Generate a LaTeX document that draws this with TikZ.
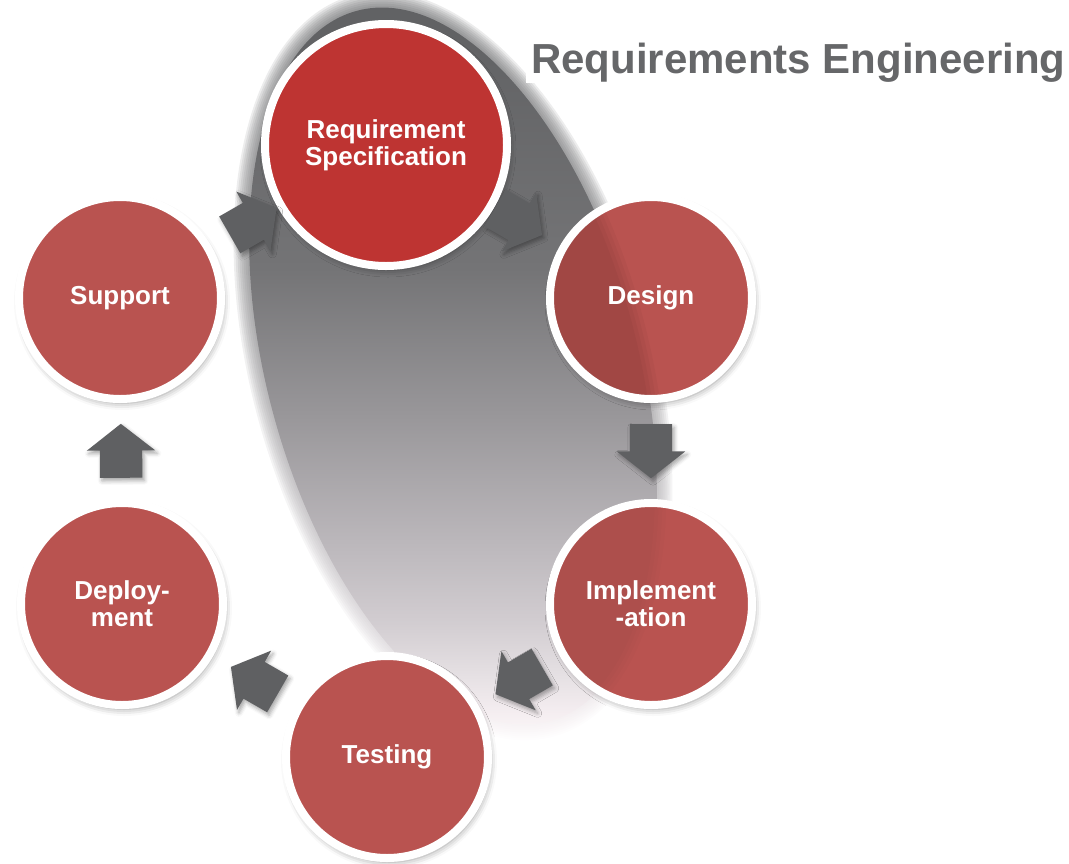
\documentclass[tikz,border=0pt]{standalone}
\usepackage{fontspec}
\setmainfont{Liberation Sans}
\usetikzlibrary{shapes.arrows,shadows.blur,calc}
\definecolor{cA}{RGB}{255,252,253}
\definecolor{cB}{RGB}{244,237,240}
\definecolor{cC}{RGB}{229,224,227}
\definecolor{cD}{RGB}{210,205,209}
\definecolor{cE}{RGB}{187,183,187}
\definecolor{cF}{RGB}{153,151,154}
\definecolor{cG}{RGB}{116,116,118}
\definecolor{cH}{RGB}{97,98,100}
\pgfdeclareverticalshading{ellshade}{100bp}{color(0bp)=(cA); color(25bp)=(cA);
  color(27.5bp)=(cB); color(30bp)=(cC); color(33.5bp)=(cD); color(39bp)=(cE);
  color(47.5bp)=(cF); color(57.5bp)=(cG); color(73.5bp)=(cH); color(100bp)=(cH)}
\definecolor{redMain}{RGB}{190,52,50}
\definecolor{redStage}{RGB}{185,83,80}
\definecolor{arrowGray}{RGB}{95,96,98}
\definecolor{titleGray}{RGB}{102,103,105}
\newcommand{\shadowellipse}[2]{%
  \begin{scope}[shift={(ellc)}, rotate=15.2]
    \shade[shading=ellshade, opacity=#2]
      (0,0) ellipse [x radius={188+#1}, y radius={370+#1}];
  \end{scope}}
\newcommand{\tintellipse}[2]{%
  \begin{scope}[shift={(ellc)}, rotate=15.2]
    \fill[black, opacity=#2]
      (0,0) ellipse [x radius={188+#1}, y radius={370+#1}];
  \end{scope}}
\newcommand{\cycarrow}[3]{%
  \path let \p1=($(#3)-(#2)$), \n1={atan2(\y1,\x1)},
    \p2=($(#2)!0.5!(#3)$) in
    node[cycarrow, rotate=\n1, anchor=tail] (#1) at ($(\p2)+(\n1+180:27pt)$) {};}
\tikzset{
  stage/.style={circle, inner sep=0pt, minimum size=210pt, text=white,
    align=center, font=\bfseries\fontsize{26}{27}\selectfont},
  discstyle/.style={draw=white, line width=8pt, fill=redStage,
    blur shadow={shadow xshift=2pt, shadow yshift=-4pt,
      shadow blur radius=7pt, shadow opacity=40}},
  cycarrow/.style={single arrow, fill=arrowGray, draw=none, inner xsep=0pt,
    inner ysep=21pt, minimum height=54pt, single arrow head extend=13pt,
    single arrow tip angle=104,
    blur shadow={shadow xshift=2pt, shadow yshift=-3pt,
      shadow blur radius=4pt, shadow opacity=35}},
}
\begin{document}
\begin{tikzpicture}[x=1pt, y=-1pt]
\useasboundingbox (0,0) rectangle (1069,863);
\coordinate (ellc) at (453,366);
\coordinate (preq) at (386,145);
\coordinate (pdesign) at (651,298);
\coordinate (pimpl) at (651,604);
\coordinate (ptest) at (387,757);
\coordinate (pdeploy) at (122,604);
\coordinate (psupport) at (120,298);
% soft-edged gradient shadow
\foreach \k in {0,...,7} {\shadowellipse{14-2*\k}{0.12}}
\shadowellipse{-2}{1}
% title
\node[anchor=base west, fill=white, inner xsep=5pt, inner ysep=1pt,
  text=titleGray, font=\bfseries\fontsize{42}{48}\selectfont]
  (title) at (526,73) {Requirements Engineering};
% discs
\draw[discstyle, fill=redMain] (preq) circle (121);
\foreach \p in {pdesign,pimpl,ptest,pdeploy,psupport}
  {\draw[discstyle] (\p) circle (101);}
% where the shadow lies behind a stage, its red is a little darker
\begin{scope}
\clip (pdesign) circle (97);
\foreach \k in {0,...,3} {\tintellipse{8-4*\k}{0.03}}
\end{scope}
\begin{scope}
\clip (pimpl) circle (97);
\foreach \k in {0,...,3} {\tintellipse{8-4*\k}{0.012}}
\end{scope}
% stages
\node[stage, minimum size=250pt] (req) at (preq) {Requirement\\Specification};
\node[stage] (design) at (pdesign) {Design};
\node[stage] (impl) at (pimpl) {Implement\\-ation};
\node[stage] (test) at (ptest) {Testing};
\node[stage] (deploy) at (pdeploy) {Deploy-\\ment};
\node[stage] (support) at (psupport) {Support};
% arrows
\cycarrow{a1}{req}{design}
\cycarrow{a2}{design}{impl}
\cycarrow{a3}{impl}{test}
\cycarrow{a4}{test}{deploy}
\cycarrow{a5}{deploy}{support}
\cycarrow{a6}{support}{req}
\end{tikzpicture}
\end{document}
